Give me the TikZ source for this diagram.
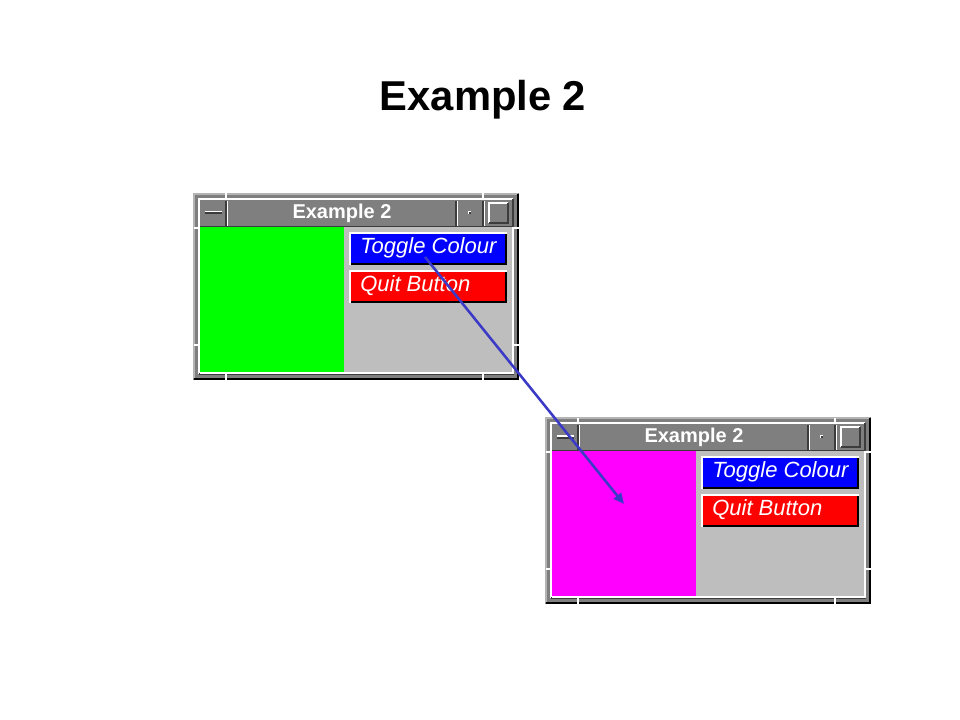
\documentclass[tikz,border=0pt]{standalone}
\usepackage{fontspec}
\setmainfont{Liberation Sans}
\usetikzlibrary{arrows.meta}
\definecolor{framegray}{HTML}{7F7F7F}
\definecolor{framelight}{HTML}{B4B4B4}
\definecolor{framedark}{HTML}{3C3C3C}
\definecolor{clientgray}{HTML}{BEBEBE}
\definecolor{arrowblue}{HTML}{3A3AC6}
\definecolor{puregreen}{HTML}{00FF00}
\definecolor{puremagenta}{HTML}{FF00FF}
\definecolor{pureblue}{HTML}{0000FF}
\definecolor{purered}{HTML}{FF0000}
\tikzset{
  wintitle/.style={text=white,font=\bfseries\fontsize{15}{18}\selectfont,inner sep=0pt},
  btntext/.style={text=white,font=\itshape\fontsize{16.5}{19}\selectfont,inner sep=0pt,anchor=west},
  win/.pic={
    % outer frame
    \fill[framegray] (0,0) rectangle (326,187);
    \draw[framelight,line width=1.2pt] (0.8,186) -- (0.8,0.8) -- (325,0.8);
    \draw[black,line width=1.2pt] (0.8,186.2) -- (325.2,186.2) -- (325.2,0.8);
    \draw[white,line width=0.9pt] (6,181) -- (6,6) -- (320,6);
    \draw[framedark,line width=0.9pt] (6,181) -- (320,181) -- (320,6);
    % frame resize ticks
    \draw[white,line width=0.9pt] (33,0.5) -- (33,6) (290,0.5) -- (290,6)
      (33,181) -- (33,187) (290,181) -- (290,187)
      (0.5,35) -- (6,35) (0.5,152) -- (6,152)
      (320,35) -- (326,35) (320,152) -- (326,152);
    % title bar
    \fill[framegray] (7,7) rectangle (319,33);
    \draw[white,line width=0.9pt] (34,8) -- (34,33) (264,8) -- (264,33) (291,8) -- (291,33);
    \draw[framedark,line width=0.9pt] (33,8) -- (33,33) (263,8) -- (263,33) (290,8) -- (290,33)
      (7,33.5) -- (319,33.5);
    % minimize glyph
    \fill[white] (12,18) rectangle (29,19.5);
    \fill[framedark] (12,19.5) rectangle (29,21.5);
    % dot glyph
    \fill[white] (275,18) rectangle (278,21);
    \fill[framedark] (276,19) rectangle (278,21);
    % maximize glyph
    \draw[white,line width=0.9pt] (296,30) -- (296,10) -- (315,10);
    \draw[framedark,line width=0.9pt] (296,30) -- (315,30) -- (315,10);
    \node[wintitle] (-title) at (149,20) {Example 2};
    % client area
    \fill[clientgray] (151,34) rectangle (319,180);
    \fill[#1] (7,34) rectangle (151,180);
    \draw[white,line width=1.2pt] (7,180) -- (320,180) -- (320,34);
    % toggle button
    \fill[white] (156,39) rectangle (314,72);
    \fill[black] (158,41) rectangle (314,72);
    \fill[pureblue] (158,41) rectangle (312,70);
    \node[btntext] (-toggle) at (167,55) {Toggle Colour};
    % quit button
    \fill[white] (156,77) rectangle (314,110);
    \fill[black] (158,79) rectangle (314,110);
    \fill[purered] (158,79) rectangle (312,108);
    \node[btntext] (-quit) at (167,93) {Quit Button};
  }
}
\begin{document}
\begin{tikzpicture}[x=0.75pt,y=-0.75pt]
\useasboundingbox[fill=white] (0,0) rectangle (960,720);
\node[font=\bfseries\fontsize{31.3}{36}\selectfont,inner sep=0pt] (title) at (483,100) {Example 2};
\pic (w1) at (193,193) {win=puregreen};
\pic (w2) at (545,417) {win=puremagenta};
\coordinate (src) at (425,257);
\coordinate (dst) at (624,504);
\draw[arrowblue,line width=1.9pt,-{Triangle[length=8pt,width=7pt]}] (src) -- (dst);
\end{tikzpicture}
\end{document}
